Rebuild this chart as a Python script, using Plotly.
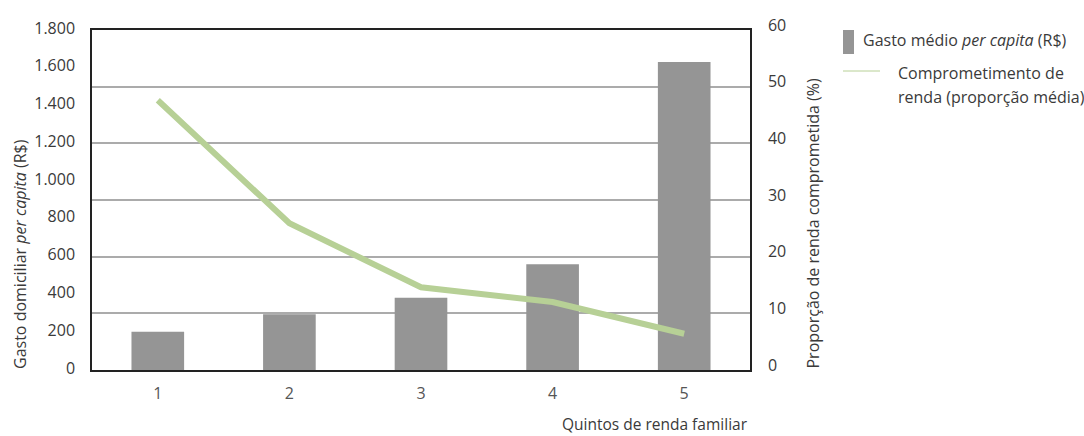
import plotly.graph_objects as go

# Income quintiles and the two series
quintis = ["1", "2", "3", "4", "5"]
gasto_medio = [203, 295, 383, 560, 1630]           # R$ per capita
comprometimento = [47.6, 25.9, 14.6, 12.0, 6.4]    # % of income

nome_barras = "Gasto médio <i>per capita</i> (R$)"
nome_linha = ["Comprometimento de", "renda (proporção média)"]
titulo_x = "Quintos de renda familiar"
titulo_y1 = "Gasto domiciliar <i>per capita</i> (R$)"
titulo_y2 = "Proporção de renda comprometida (%)"

y1_ticks = list(range(0, 1801, 200))
y2_ticks = list(range(0, 61, 10))

FONT = "Open Sans, Noto Sans, sans-serif"
TXT = "#3a3a3a"
BAR = "#959595"
LINE = "#b7d096"

# plot area in pixels
L, R, T, B = 92, 750, 30, 370
W, H = R - L, B - T


def px(x):
    return (x - L) / W


def py(y):
    return (B - y) / H


fig = go.Figure()
fig.add_trace(go.Bar(
    x=quintis, y=gasto_medio, marker=dict(color=BAR, line=dict(width=0)),
    name="gasto", showlegend=False, yaxis="y", hoverinfo="skip",
))
fig.add_trace(go.Scatter(
    x=quintis, y=comprometimento, mode="lines",
    line=dict(color=LINE, width=6),
    name="comprometimento", showlegend=False, yaxis="y2", hoverinfo="skip",
))

fig.update_layout(
    width=1084, height=436,
    margin=dict(l=L, r=1084 - R, t=T, b=436 - B),
    paper_bgcolor="white", plot_bgcolor="white",
    separators=",.",
    font=dict(family=FONT, size=16, color=TXT),
    bargap=0.6,
    xaxis=dict(
        type="category",
        showline=True, linecolor="#222", linewidth=1.5, mirror=True,
        showgrid=False, ticks="", tickfont=dict(color="#555", size=16),
        ticklabelstandoff=8,
    ),
    yaxis=dict(
        range=[0, 1800], tickvals=y1_ticks, tickformat=",d",
        showgrid=False, zeroline=False, ticks="",
        showline=True, linecolor="#222", linewidth=1.5,
        ticklabelstandoff=12, ticklabelshift=-2,
    ),
    yaxis2=dict(
        range=[0, 60], tickvals=y2_ticks, overlaying="y", side="right",
        showgrid=True, gridcolor="#ababab", gridwidth=1.5,
        zeroline=False, ticks="",
        showline=True, linecolor="#222", linewidth=1.5,
        ticklabelstandoff=13, ticklabelshift=-5,
    ),
)

# Axis titles
fig.add_annotation(
    text=titulo_x, xref="paper", yref="paper",
    x=1.0, y=py(424), xanchor="right", yanchor="middle",
    showarrow=False, font=dict(size=15.5, color=TXT),
)
fig.add_annotation(
    text=titulo_y1, xref="paper", yref="paper", textangle=-90,
    x=px(20), y=py(371), xanchor="center", yanchor="bottom",
    showarrow=False, font=dict(size=16, color=TXT),
)
fig.add_annotation(
    text=titulo_y2, xref="paper", yref="paper", textangle=-90,
    x=px(812), y=py(371), xanchor="center", yanchor="bottom",
    showarrow=False, font=dict(size=16, color=TXT),
)

# Legend drawn beside the plot
fig.add_shape(type="rect", xref="paper", yref="paper",
              x0=px(843), x1=px(854), y0=py(54), y1=py(30),
              fillcolor=BAR, line=dict(width=0))
fig.add_annotation(text=nome_barras, xref="paper", yref="paper",
                   x=px(861), y=py(40), xanchor="left", yanchor="middle",
                   showarrow=False, font=dict(size=16, color=TXT))
fig.add_shape(type="line", xref="paper", yref="paper",
              x0=px(843), x1=px(880), y0=py(71), y1=py(71),
              line=dict(color=LINE, width=1))
for i, linha in enumerate(nome_linha):
    fig.add_annotation(text=linha, xref="paper", yref="paper",
                       x=px(896), y=py(73 + 24 * i), xanchor="left", yanchor="middle",
                       showarrow=False, font=dict(size=16, color=TXT))

fig.write_html("out.html")
